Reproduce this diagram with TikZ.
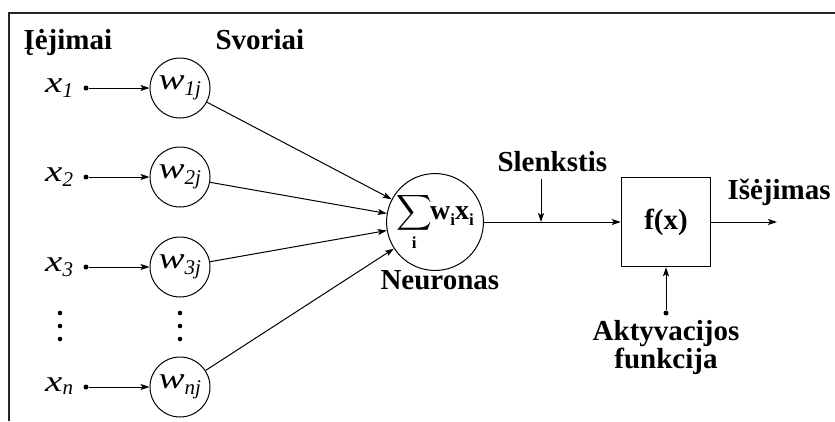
\documentclass[tikz,border=0pt]{standalone}
\usepackage{exscale}
\usepackage{fontspec}
\setmainfont{Liberation Serif}
\usepackage{tikz}
\usetikzlibrary{arrows.meta}
\usetikzlibrary{positioning}
\newcommand{\widen}[1]{\scalebox{1.3}[1]{#1}}
\newcommand{\bsub}{\mbox{\fontsize{17}{17}\selectfont\bfseries i}}
\newcommand{\lowsub}{\raisebox{-6pt}{\bsub}}
\tikzset{
  title/.style={font=\fontsize{29}{32}\selectfont\bfseries, inner sep=0},
  weight/.style={draw, circle, minimum size=60, inner sep=0,
    font=\fontsize{30}{32}\selectfont\itshape},
  input/.style={font=\fontsize{30}{32}\selectfont\itshape, inner sep=0},
  dot/.style={circle, fill=black, inner sep=0, minimum size=5},
  arrow/.style={-{Stealth[length=9pt, width=6pt, inset=2pt]}, line width=1pt}
}

\begin{document}
\begin{tikzpicture}[x=1pt, y=-1pt, line width=1pt]
  \useasboundingbox (0,0) rectangle (835,421);
  % frame
  \draw[line width=2pt, black!85] (9,421) -- (9,13) -- (835,13);

  \node[title, anchor=base west] (inputs) at (23,49) {Įėjimai};
  \node[title, anchor=base west] (weights) at (215,49) {Svoriai};

  % neuron
  \node[draw, circle, minimum size=80, inner sep=0,
        font=\fontsize{28}{30}\selectfont] (sum) at (435,222)
    {$\displaystyle\sum_{\bsub}$\hspace{-2pt}\textbf{w}\lowsub\textbf{x}\lowsub};
  \node[title, anchor=base west] (neuron) at (380,289) {Neuronas};

  % inputs and weights
  \foreach \i/\y in {1/88, 2/177, 3/267, n/387} {
    \node[weight] (w\i) at (180,\y) {\widen{w}\textsubscript{\i j}};
    \node[dot] (in\i) at (86,\y) {};
    \node[input, anchor=base east] (x\i) at (74,\y+4) {\widen{x}\textsubscript{\i}};
    \draw[arrow] (in\i) -- (w\i);
    \draw[arrow] (w\i) -- (sum);
  }
  \foreach \y in {313, 326, 339} {
    \fill (60,\y) circle (2.3);
    \fill (180,\y) circle (2.3);
  }

  % activation
  \node[draw, minimum size=89, inner sep=0, line width=1.5pt,
        font=\fontsize{29}{32}\selectfont\bfseries] (act) at (666,222) {f(x)};
  \draw[arrow] (sum) -- (act);

  \node[title, anchor=base west] (threshold) at (497,171) {Slenkstis};
  \coordinate (thr) at (541,222);
  \draw[arrow] (thr |- threshold.south) ++(0,7) -- (thr);

  \coordinate (out) at (777,222);
  \draw[arrow] (act) -- (out);
  \node[title, anchor=base west] (output) at (727,199) {Išėjimas};

  \node[dot] (fn) at (666,313) {};
  \draw[arrow] (fn) -- (act);
  \node[title, align=center, anchor=north] (fnlabel) at (666,320)
    {Aktyvacijos\\[-4pt]funkcija};
\end{tikzpicture}
\end{document}
